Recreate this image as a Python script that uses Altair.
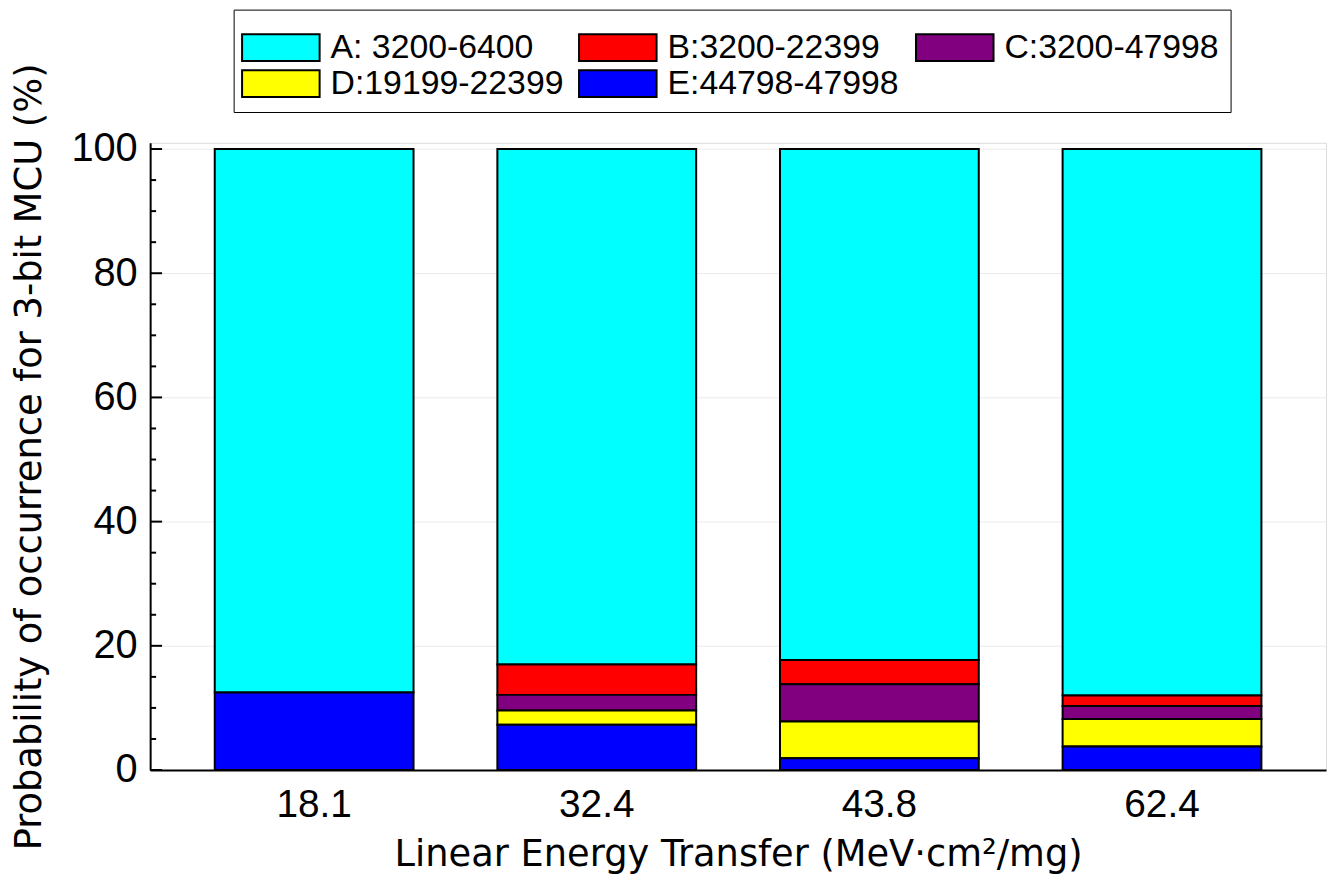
import altair as alt
import pandas as pd

# LET categories (x axis)
let_labels = ["18.1", "32.4", "43.8", "62.4"]

# Series (MCU address ranges) and colours
series_names = ["A: 3200-6400", "B:3200-22399", "C:3200-47998", "D:19199-22399", "E:44798-47998"]
series_colors = ["#00ffff", "#ff0000", "#800080", "#ffff00", "#0000ff"]

# Probability of occurrence (%) per series, per LET
A_vals = [87.5, 83.0, 82.3, 88.0]
B_vals = [0.0, 4.9, 3.9, 1.7]
C_vals = [0.0, 2.5, 6.0, 2.1]
D_vals = [0.0, 2.3, 5.9, 4.4]
E_vals = [12.5, 7.3, 1.9, 3.8]

# y axis ticks
major_ticks = [0, 20, 40, 60, 80, 100]
minor_ticks = [5, 10, 15, 25, 30, 35, 45, 50, 55, 65, 70, 75, 85, 90, 95]

all_vals = [A_vals, B_vals, C_vals, D_vals, E_vals]
rows = []
for i, name in enumerate(series_names):
    for j, let in enumerate(let_labels):
        v = all_vals[i][j]
        if v > 0:
            rows.append({"LET": let, "Range": name, "Prob": v, "rank": len(series_names) - 1 - i})
df = pd.DataFrame(rows)

major_df = pd.DataFrame({"v": major_ticks})
minor_df = pd.DataFrame({"v": minor_ticks})

W, H = 1183, 631
yscale = alt.Scale(domain=[0, 101], nice=False, zero=True)
xscale = alt.Scale(paddingInner=0.2966, paddingOuter=0.2286)

title_font = "DejaVu Sans"
label_font = "Liberation Sans"
y_title = "Probability of occurrence for 3-bit MCU (%)"

yaxis = alt.Axis(
    values=major_ticks,
    title=y_title,
    labelPadding=13,
    labelFontSize=40,
    labelFont=label_font,
    labelColor="black",
    ticks=False,
    domainColor="black",
    domainWidth=2,
    grid=True,
    gridColor="#ebebeb",
    gridWidth=1,
    titleFont=title_font,
    titleFontSize=37,
    titleFontWeight="normal",
    titleColor="black",
    titleBaseline="middle",
    titleX=-121,
)

bars = alt.Chart(df).mark_bar(stroke="black", strokeWidth=2).encode(
    x=alt.X(
        "LET:N",
        sort=let_labels,
        scale=xscale,
        axis=alt.Axis(
            title="Linear Energy Transfer (MeV·cm²/mg)",
            labelAngle=0,
            labelPadding=16,
            labelFontSize=39,
            labelFont=label_font,
            labelColor="black",
            ticks=False,
            domainColor="black",
            domainWidth=2,
            grid=False,
            titleFont=title_font,
            titleFontSize=37,
            titleFontWeight="normal",
            titleColor="black",
            titleBaseline="alphabetic",
            titleY=96,
        ),
    ),
    y=alt.Y("Prob:Q", stack="zero", scale=yscale, axis=yaxis, title=y_title),
    color=alt.Color(
        "Range:N",
        scale=alt.Scale(domain=series_names, range=series_colors),
        legend=alt.Legend(
            title=" ",
            titleFontSize=6,
            titlePadding=4,
            orient="none",
            legendX=84,
            legendY=-134,
            columns=3,
            direction="horizontal",
            gridAlign="all",
            symbolType="M-2.889,-1L2.889,-1L2.889,1L-2.889,1Z",
            symbolSize=729,
            symbolOffset=19.5,
            symbolStrokeColor="black",
            symbolStrokeWidth=2,
            symbolOpacity=1,
            labelFont=label_font,
            labelFontSize=34,
            labelColor="black",
            labelOffset=33,
            columnPadding=11,
            rowPadding=0.5,
            padding=11,
            strokeColor="black",
            labelLimit=500,
        ),
    ),
    order=alt.Order("rank:Q", sort="ascending"),
)

major = alt.Chart(major_df).mark_rule(color="black", strokeWidth=2).encode(
    y=alt.Y("v:Q", scale=yscale, axis=yaxis, title=y_title),
    x=alt.value(0),
    x2=alt.value(12),
)
minor = alt.Chart(minor_df).mark_rule(color="black", strokeWidth=2).encode(
    y=alt.Y("v:Q", scale=yscale, axis=yaxis, title=y_title),
    x=alt.value(0),
    x2=alt.value(6),
)

chart = (
    alt.layer(bars, major, minor)
    .properties(
        width=W,
        height=H,
        autosize=alt.AutoSizeParams(type="none"),
        padding={"left": 143, "top": 133, "right": 2, "bottom": 106},
    )
    .configure_view(stroke=None)
    .configure(background="white")
)

chart.save("out.html", embed_options={"renderer": "svg", "actions": False})
